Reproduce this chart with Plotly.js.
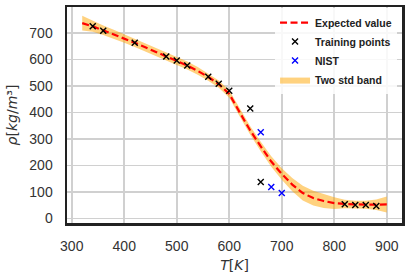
<!DOCTYPE html>
<html>
<head>
<meta charset="utf-8">
<script src="https://cdn.plot.ly/plotly-3.0.1.min.js"></script>
<style>html,body{margin:0;padding:0;background:#fff;}#chart{width:408px;height:278px;}</style>
</head>
<body>
<div id="chart"></div>
<script>
// Model curve (temperature grid, expected density, one standard deviation)
const gridT = [320, 340, 360, 380, 400, 420, 440, 460, 480, 500, 520, 540, 560, 580, 600,
               620, 640, 660, 680, 700, 720, 740, 760, 780, 800, 820, 840, 860, 880, 900];
const meanRho = [737, 725, 710, 695, 679, 663, 646, 629, 612, 595, 577, 557, 534, 507, 470,
                 400, 332, 272, 215, 168, 128, 96, 77, 66, 58, 55, 53, 52, 52, 53];
const stdRho = [14, 10, 9, 8.5, 8, 8, 8, 8, 7.5, 7.5, 7.5, 7.5, 7, 7, 7,
                7.5, 8, 9, 10, 11, 12.5, 14, 14, 13, 11, 8, 7, 7.5, 10, 15];

// Training points
const trainT = [340, 360, 420, 480, 500, 520, 560, 580, 600, 640, 660, 820, 840, 860, 880];
const trainRho = [725, 708, 663, 611, 596, 577, 535, 508, 482, 415, 138, 54, 51, 51, 47];

// NIST reference points
const nistT = [660, 680, 700];
const nistRho = [325, 119, 96];

const lower = meanRho.map((m, i) => m - 2 * stdRho[i]);
const upper = meanRho.map((m, i) => m + 2 * stdRho[i]);

const traces = [
  {x: gridT, y: lower, mode: 'lines', line: {width: 0, color: 'rgba(255,165,0,0)'},
   showlegend: false, hoverinfo: 'skip'},
  {x: gridT, y: upper, mode: 'lines', line: {width: 0, color: 'rgba(255,165,0,0)'},
   fill: 'tonexty', fillcolor: 'rgba(255,165,0,0.5)', name: 'Two std band', legendrank: 4},
  {x: gridT, y: meanRho, mode: 'lines', name: 'Expected value',
   line: {color: '#ff0000', width: 2.2, dash: '7px,3.5px'}, legendrank: 1},
  {x: trainT, y: trainRho, mode: 'markers', name: 'Training points',
   marker: {symbol: 'x-thin', size: 6, color: '#000', line: {color: '#000', width: 1.4}}, legendrank: 2},
  {x: nistT, y: nistRho, mode: 'markers', name: 'NIST',
   marker: {symbol: 'x-thin', size: 6, color: '#0000ff', line: {color: '#0000ff', width: 1.4}}, legendrank: 3}
];

const axisCommon = {
  showgrid: true, gridcolor: '#d0d0d0', gridwidth: 1.6,
  zeroline: false, showline: true, mirror: true, linecolor: '#222', linewidth: 2.5,
  ticks: '', tickfont: {family: 'Liberation Sans, Arial, sans-serif', size: 14, color: '#333'},
  automargin: false
};

const layout = {
  width: 408, height: 278,
  margin: {l: 67, r: 6, t: 7, b: 55},
  paper_bgcolor: '#fff', plot_bgcolor: '#fff',
  xaxis: Object.assign({}, axisCommon, {
    range: [291, 929], tick0: 0, dtick: 100, ticklabelstandoff: 9,
    title: {text: '<i>T</i>[<i>K</i>]', standoff: 7,
            font: {family: 'DejaVu Sans, sans-serif', size: 14, color: '#333'}}
  }),
  yaxis: Object.assign({}, axisCommon, {
    range: [-17, 798], tick0: 0, dtick: 100, ticklabelstandoff: 9,
    title: {text: '<i>ρ</i>[<i>kg</i>/<i>m</i>³]', standoff: 9,
            font: {family: 'DejaVu Sans, sans-serif', size: 14, color: '#333'}}
  }),
  legend: {
    x: 0.621, y: 0.995, xanchor: 'left', yanchor: 'top',
    bgcolor: 'rgba(255,255,255,0.85)', borderwidth: 0,
    font: {family: 'Liberation Sans, Arial, sans-serif', size: 10.5, color: '#222', weight: 'bold'},
    itemwidth: 30, traceorder: 'normal'
  },
  showlegend: true
};

Plotly.newPlot('chart', traces, layout, {displayModeBar: false, staticPlot: true});
</script>
</body>
</html>
